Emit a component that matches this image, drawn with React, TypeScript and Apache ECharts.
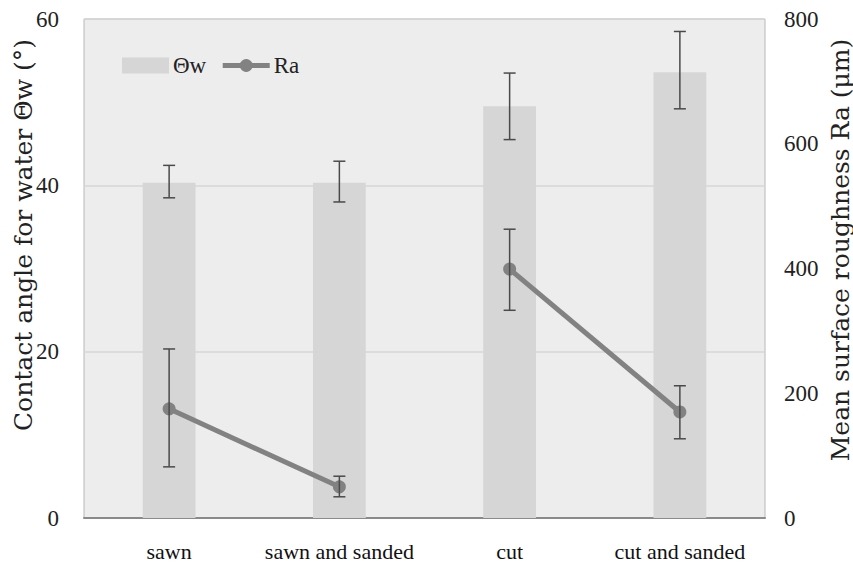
import React, { useEffect, useRef } from "react";
import * as echarts from "echarts";

const categories = ["sawn", "sawn and sanded", "cut", "cut and sanded"];
const thetaW = [40.3, 40.3, 49.5, 53.6];
const thetaWLow = [38.5, 38.0, 45.5, 49.2];
const thetaWHigh = [42.4, 42.9, 53.5, 58.5];
const raSawn = [175, 50, "-", "-"];
const raCut = ["-", "-", 399, 170];
const raLow = [82, 34, 333, 127];
const raHigh = [271, 67, 463, 212];
const leftTicks = [0, 20, 40, 60];
const rightTicks = [0, 200, 400, 600, 800];
const leftTitle = "Contact angle for water Θw (°)";
const rightTitle = "Mean surface roughness Ra (μm)";

const serif = "'Liberation Serif', 'Times New Roman', Times, serif";
const titleFont = "'DejaVu Serif', 'Liberation Serif', serif";

function errorSeries(name: string, low: number[], high: number[], yAxisIndex: number, z: number) {
  return {
    name,
    type: "custom",
    yAxisIndex,
    z,
    silent: true,
    data: low.map((l, i) => [i, l, high[i]]),
    renderItem: (_params: any, api: any) => {
      const i = api.value(0);
      const lo = api.coord([i, api.value(1)]);
      const hi = api.coord([i, api.value(2)]);
      const cap = 6;
      const style = { stroke: "#4a4a4a", lineWidth: 1.5 };
      return {
        type: "group",
        children: [
          { type: "line", shape: { x1: lo[0], y1: lo[1], x2: hi[0], y2: hi[1] }, style },
          { type: "line", shape: { x1: lo[0] - cap, y1: lo[1], x2: lo[0] + cap, y2: lo[1] }, style },
          { type: "line", shape: { x1: hi[0] - cap, y1: hi[1], x2: hi[0] + cap, y2: hi[1] }, style },
        ],
      };
    },
  };
}

function raSeries(data: any[]) {
  return {
    name: "Ra",
    type: "line",
    yAxisIndex: 1,
    data,
    symbol: "circle",
    symbolSize: 13,
    lineStyle: { color: "#828282", width: 5 },
    itemStyle: { color: "#828282" },
    z: 4,
  };
}

export default function App() {
  const ref = useRef<HTMLDivElement>(null);
  useEffect(() => {
    if (!ref.current) return;
    const chart = echarts.init(ref.current, undefined, { renderer: "svg" });
    chart.setOption({
      animation: false,
      backgroundColor: "#ffffff",
      textStyle: { fontFamily: serif },
      graphic: [
        {
          type: "text",
          x: 23,
          y: 235,
          rotation: Math.PI / 2,
          style: {
            text: leftTitle,
            fontFamily: titleFont,
            fontSize: 25,
            fill: "#222",
            align: "center",
            verticalAlign: "middle",
          },
        },
        {
          type: "text",
          x: 840,
          y: 250,
          rotation: Math.PI / 2,
          style: {
            text: rightTitle,
            fontFamily: titleFont,
            fontSize: 25,
            fill: "#222",
            align: "center",
            verticalAlign: "middle",
          },
        },
      ],
      legend: {
        left: 117,
        top: 49,
        itemWidth: 47,
        itemHeight: 16,
        itemGap: 14,
        textStyle: { fontFamily: serif, fontSize: 23, color: "#222", padding: [0, 0, 0, -1] },
        data: [
          { name: "Θw", icon: "rect" },
          { name: "Ra", lineStyle: { width: 5, color: "#828282" }, itemStyle: { color: "#828282" } },
        ],
      },
      grid: {
        left: 84,
        right: 88,
        top: 19,
        bottom: 51,
        show: true,
        outerBoundsMode: "none",
        containLabel: false,
        backgroundColor: "#ededed",
        borderColor: "#b8b8b8",
        borderWidth: 1,
      },
      xAxis: {
        type: "category",
        data: categories,
        axisLine: { show: true, lineStyle: { color: "#8a8a8a", width: 2 } },
        axisTick: { show: false },
        axisLabel: { fontFamily: serif, fontSize: 22, color: "#111", margin: 22, interval: 0 },
      },
      yAxis: [
        {
          type: "value",
          min: leftTicks[0],
          max: leftTicks[leftTicks.length - 1],
          interval: 20,
          axisLine: { show: false },
          axisTick: { show: false },
          axisLabel: { fontFamily: serif, fontSize: 23, color: "#222", margin: 25 },
          splitLine: { lineStyle: { color: "#d6d6d6", width: 1.5 } },
        },
        {
          type: "value",
          min: rightTicks[0],
          max: rightTicks[rightTicks.length - 1],
          interval: 200,
          axisLine: { show: false },
          axisTick: { show: false },
          axisLabel: { fontFamily: serif, fontSize: 23, color: "#222", margin: 19 },
          splitLine: { show: false },
        },
      ],
      series: [
        {
          name: "Θw",
          type: "bar",
          yAxisIndex: 0,
          data: thetaW,
          barWidth: "31%",
          itemStyle: { color: "#d6d6d6" },
          z: 2,
        },
        errorSeries("ΘwErr", thetaWLow, thetaWHigh, 0, 3),
        raSeries(raSawn),
        raSeries(raCut),
        errorSeries("RaErr", raLow, raHigh, 1, 5),
      ],
    });
    return () => chart.dispose();
  }, []);
  return (
    <div
      ref={ref}
      style={{ position: "fixed", left: 0, top: 0, width: 853, height: 569 }}
    />
  );
}
